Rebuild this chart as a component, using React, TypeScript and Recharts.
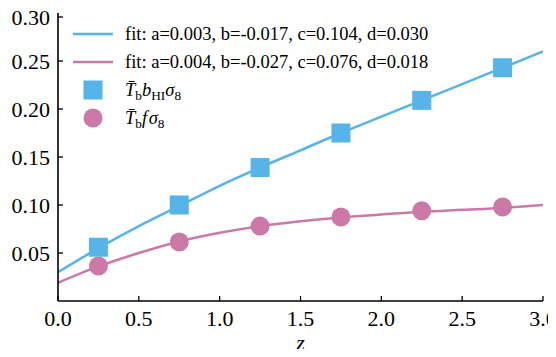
import { ComposedChart, Line, Scatter, XAxis, YAxis, Legend } from "recharts"

const fitZ = [0, 0.25, 0.5, 0.75, 1.0, 1.25, 1.5, 1.75, 2.0, 2.25, 2.5, 2.75, 3.0]
const fitBias = [0.030, 0.055, 0.078, 0.099, 0.120, 0.139, 0.157, 0.175, 0.192, 0.209, 0.226, 0.243, 0.260]
const fitGrowth = [0.019, 0.036, 0.050, 0.062, 0.071, 0.078, 0.083, 0.087, 0.090, 0.093, 0.095, 0.097, 0.100]

const markZ = [0.25, 0.75, 1.25, 1.75, 2.25, 2.75]
const biasPts = [0.056, 0.100, 0.139, 0.175, 0.209, 0.243]
const growthPts = [0.0365, 0.0615, 0.078, 0.0875, 0.094, 0.098]

const xTicks = [0, 0.5, 1.0, 1.5, 2.0, 2.5, 3.0]
const yTicks = [0.05, 0.10, 0.15, 0.20, 0.25, 0.30]

const fitBiasLabel = "fit: a=0.003, b=-0.017, c=0.104, d=0.030"
const fitGrowthLabel = "fit: a=0.004, b=-0.027, c=0.076, d=0.018"

const BLUE = "#56B4E9"
const PINK = "#CC79A7"
const FONT = "Liberation Serif"

const zip = (zs: number[], vs: number[]) => zs.map((z, i) => ({ z, v: vs[i] }))

const LeftTick = ({ x, y, payload }: any) => (
  <g>
    <line x1={x} x2={x + 5} y1={y} y2={y} stroke="#000" strokeWidth={1.3} />
    <text x={x - 8} y={y} dy={7.5} textAnchor="end" fontSize={22} fontFamily={FONT} fill="#000">
      {payload.value.toFixed(2)}
    </text>
  </g>
)
const RightTick = ({ x, y }: any) => <line x1={x} x2={x - 5} y1={y} y2={y} stroke="#000" strokeWidth={1.3} />
const BottomTick = ({ x, y, payload }: any) => (
  <g>
    <line x1={x} x2={x} y1={y} y2={y - 5} stroke="#000" strokeWidth={1.3} />
    <text x={x} y={y + 25} textAnchor="middle" fontSize={22} fontFamily={FONT} fill="#000">
      {payload.value.toFixed(1)}
    </text>
  </g>
)
const TopTick = ({ x, y }: any) => <line x1={x} x2={x} y1={y} y2={y + 5} stroke="#000" strokeWidth={1.3} />

const ZLabel = ({ viewBox }: any) => (
  <text x={viewBox.x + viewBox.width / 2} y={viewBox.y + 49} textAnchor="middle" fontSize={22}
    fontStyle="italic" fontFamily={FONT} fill="#000">z</text>
)

const sub = { fontSize: "0.72em", verticalAlign: "-0.3em", lineHeight: 0 } as const

const LegendBox = () => {
  const row = { display: "flex", alignItems: "center", height: 28 } as const
  const txt = { fontFamily: FONT, fontSize: 18.5, color: "#000", marginLeft: 12, whiteSpace: "nowrap" } as const
  return (
    <div>
      <div style={row}>
        <svg width={40} height={20}><line x1={0} x2={40} y1={10} y2={10} stroke={BLUE} strokeWidth={2.5} /></svg>
        <span style={txt}>{fitBiasLabel}</span>
      </div>
      <div style={row}>
        <svg width={40} height={20}><line x1={0} x2={40} y1={10} y2={10} stroke={PINK} strokeWidth={2.5} /></svg>
        <span style={txt}>{fitGrowthLabel}</span>
      </div>
      <div style={row}>
        <svg width={40} height={20}><rect x={10.5} y={0.5} width={19} height={19} fill={BLUE} /></svg>
        <span style={txt}>
          <i>T&#772;</i><span style={sub}>b</span><i>b</i><span style={sub}>HI</span><i>σ</i><span style={sub}>8</span>
        </span>
      </div>
      <div style={row}>
        <svg width={40} height={20}><circle cx={20} cy={10} r={9.5} fill={PINK} /></svg>
        <span style={txt}>
          <i>T&#772;</i><span style={sub}>b</span><i>f</i>&#8202;<i>σ</i><span style={sub}>8</span>
        </span>
      </div>
    </div>
  )
}

export default function App() {
  return (
    <>
      <style>{`.recharts-surface { overflow: visible !important; }`}</style>
      <ComposedChart width={548} height={341} margin={{ top: 5, right: 13, bottom: 0, left: 0 }}>
        <XAxis dataKey="z" type="number" domain={[0, 3]} ticks={xTicks} height={48}
          tickSize={0} tickMargin={0} tick={<BottomTick />} axisLine={{ stroke: "#000", strokeWidth: 1.6 }}
          allowDataOverflow label={<ZLabel />} />
        <XAxis xAxisId="top" orientation="top" type="number" domain={[0, 3]} ticks={xTicks} height={0}
          tickSize={0} tickMargin={0} tick={<TopTick />} axisLine={{ stroke: "#000", strokeWidth: 1.6 }} />
        <YAxis type="number" domain={[0, 0.3]} ticks={yTicks} width={50}
          tickSize={0} tickMargin={0} tick={<LeftTick />} axisLine={{ stroke: "#000", strokeWidth: 1.6 }} allowDataOverflow />
        <YAxis yAxisId="right" orientation="right" type="number" domain={[0, 0.3]} ticks={yTicks} width={0}
          tickSize={0} tickMargin={0} tick={<RightTick />} axisLine={{ stroke: "#000", strokeWidth: 1.6 }} />
        <Line data={zip(fitZ, fitBias)} dataKey="v" type="monotone" stroke={BLUE} strokeWidth={2.5} dot={false} isAnimationActive={false} />
        <Line data={zip(fitZ, fitGrowth)} dataKey="v" type="monotone" stroke={PINK} strokeWidth={2.5} dot={false} isAnimationActive={false} />
        <Scatter data={zip(markZ, biasPts)} dataKey="v" fill={BLUE} isAnimationActive={false}
          shape={(p: any) => <rect x={p.cx - 9.5} y={p.cy - 9.5} width={19} height={19} fill={BLUE} />} />
        <Scatter data={zip(markZ, growthPts)} dataKey="v" fill={PINK} isAnimationActive={false}
          shape={(p: any) => <circle cx={p.cx} cy={p.cy} r={9.5} fill={PINK} />} />
        <Legend layout="vertical" align="center" verticalAlign="middle" content={<LegendBox />}
          wrapperStyle={{ position: "absolute", top: 12, left: 65, width: "auto" }} />
      </ComposedChart>
    </>
  )
}
